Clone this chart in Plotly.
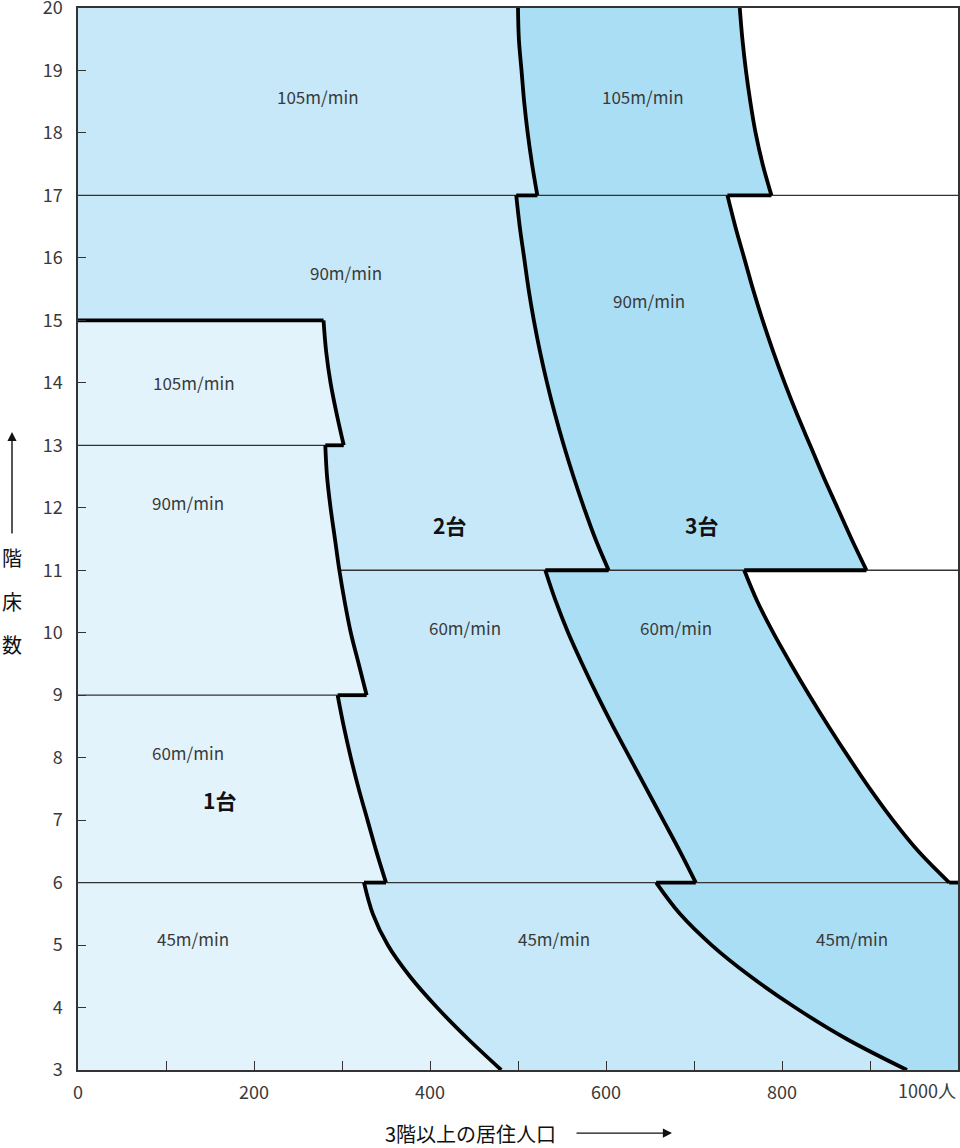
import plotly.graph_objects as go

# ---- data ----
# boundary between 1台 and 2台 zones (population x, floor y), including steps
A_floor = [15, 15, 14.5, 14, 13.5, 13, 13, 12.5, 12, 11.5, 11, 10.5, 10, 9.5, 9,
           9, 8.5, 8, 7.5, 7, 6.5, 6, 6, 5.5, 5, 4.5, 4, 3.5, 3]
A_x = [0, 279, 282, 287, 294, 302, 281, 283, 287, 292, 297, 303, 310, 319, 328,
       295, 302, 310, 319, 329, 339, 350, 325, 335, 352, 377, 408, 443, 481]

# boundary between 2台 and 3台 zones
B_floor = [20, 19.5, 19, 18.5, 18, 17.5, 17,
           17, 16.5, 16, 15.5, 15, 14.5, 14, 13.5, 13, 12.5, 12, 11.5, 11,
           11, 10.5, 10, 9.5, 9, 8.5, 8, 7.5, 7, 6.5, 6,
           6, 5.5, 5, 4.5, 4, 3.5, 3]
B_x = [500, 501, 504, 507, 511, 516, 522,
       498, 502, 507, 512, 518, 525, 533, 542, 552, 563, 575, 588, 603,
       531, 543, 557, 573, 590, 608, 627, 646, 665, 684, 702,
       657, 684, 720, 764, 815, 873, 942]

# outer boundary of 3台 zone
C_floor = [20, 19.5, 19, 18.5, 18, 17.5, 17,
           17, 16.5, 16, 15.5, 15, 14.5, 14, 13.5, 13, 12.5, 12, 11.5, 11,
           11, 10.5, 10, 9.5, 9, 8.5, 8, 7.5, 7, 6.5, 6,
           6]
C_x = [752, 755, 759, 764, 770, 778, 788,
       738, 747, 757, 767, 778, 790, 803, 817, 832, 847, 863, 879, 896,
       757, 772, 790, 810, 831, 853, 876, 900, 926, 955, 990,
       1000]

# thin speed-change lines
line_floor = [6, 9, 11, 13, 17]
line_x_start = [0, 0, 297, 0, 0]
line_x_end = [1000, 295, 1000, 281, 1000]

# zone labels
speed_text = ["105m/min", "105m/min", "90m/min", "90m/min", "105m/min", "90m/min",
              "60m/min", "60m/min", "60m/min", "45m/min", "45m/min", "45m/min"]
speed_x = [273, 642, 305, 649, 132, 125, 440, 680, 125, 131, 541, 880]
speed_y = [18.58, 18.58, 15.77, 15.31, 14.0, 12.08, 10.09, 10.09, 8.09, 5.11, 5.11, 5.11]

unit_text = ["1台", "2台", "3台"]
unit_x = [161, 422, 709]
unit_y = [7.32, 11.72, 11.72]

x_ticks = [0, 100, 200, 300, 400, 500, 600, 700, 800, 900, 1000]
x_ticklabels = ["0", "", "200", "", "400", "", "600", "", "800", "", ""]
y_ticks = list(range(3, 21))

X_MIN, X_MAX, Y_MIN, Y_MAX = 0, 1000, 3, 20

FONT = "Noto Sans CJK JP"
C1 = "#e2f3fc"
C2 = "#c6e8f8"
C3 = "#aadef5"
TXT = "#3a3a3a"


def split_segments(xs, ys):
    """Split a boundary into curved runs (floor changing) and flat steps."""
    curves, steps = [], []
    run_x, run_y = [xs[0]], [ys[0]]
    for i in range(1, len(xs)):
        if ys[i] == ys[i - 1]:
            if len(run_x) > 1:
                curves.append((run_x, run_y))
            steps.append(([xs[i - 1], xs[i]], [ys[i - 1], ys[i]]))
            run_x, run_y = [xs[i]], [ys[i]]
        else:
            run_x.append(xs[i])
            run_y.append(ys[i])
    if len(run_x) > 1:
        curves.append((run_x, run_y))
    return curves, steps


fig = go.Figure()

# zone fills (stacked, later ones on top)
fig.add_trace(go.Scatter(
    x=[X_MIN] + C_x + [X_MAX, X_MIN],
    y=[Y_MAX] + C_floor + [Y_MIN, Y_MIN],
    fill="toself", fillcolor=C3, mode="lines", line=dict(width=0),
    hoverinfo="skip", showlegend=False))
fig.add_trace(go.Scatter(
    x=[X_MIN] + B_x + [X_MIN],
    y=[Y_MAX] + B_floor + [Y_MIN],
    fill="toself", fillcolor=C2, mode="lines", line=dict(width=0),
    hoverinfo="skip", showlegend=False))
fig.add_trace(go.Scatter(
    x=A_x + [X_MIN],
    y=A_floor + [Y_MIN],
    fill="toself", fillcolor=C1, mode="lines", line=dict(width=0),
    hoverinfo="skip", showlegend=False))

# thin horizontal lines
for f, x0, x1 in zip(line_floor, line_x_start, line_x_end):
    fig.add_trace(go.Scatter(
        x=[x0, x1], y=[f, f], mode="lines",
        line=dict(color="#333333", width=1.3),
        hoverinfo="skip", showlegend=False))

# thick boundaries: smooth curves + straight steps
for bx, by in ((A_x, A_floor), (B_x, B_floor), (C_x, C_floor)):
    curves, steps = split_segments(bx, by)
    for cx, cy in curves:
        fig.add_trace(go.Scatter(
            x=cx, y=cy, mode="lines",
            line=dict(color="#000000", width=3.8, shape="spline", smoothing=1.0),
            hoverinfo="skip", showlegend=False))
    for sx, sy in steps:
        fig.add_trace(go.Scatter(
            x=sx, y=sy, mode="lines",
            line=dict(color="#000000", width=3.8),
            hoverinfo="skip", showlegend=False))

annotations = []
for t, x, y in zip(speed_text, speed_x, speed_y):
    annotations.append(dict(x=x, y=y, xref="x", yref="y", text=t, showarrow=False,
                            font=dict(family=FONT, size=17, color=TXT)))
for t, x, y in zip(unit_text, unit_x, unit_y):
    annotations.append(dict(x=x, y=y, xref="x", yref="y", text="<b>" + t + "</b>",
                            showarrow=False,
                            font=dict(family=FONT, size=21, color="#111111")))

# 1000人 tick label
annotations.append(dict(x=X_MAX, y=-0.0188, xref="x", yref="paper", text="1000人",
                        showarrow=False, xanchor="right", yanchor="middle",
                        font=dict(family=FONT, size=18, color=TXT)))

# x-axis title with arrow
annotations.append(dict(x=0.4455, y=-0.0594, xref="paper", yref="paper",
                        text="3階以上の居住人口", showarrow=False,
                        xanchor="center", yanchor="middle",
                        font=dict(family=FONT, size=20, color="#111111")))
annotations.append(dict(x=0.675, y=-0.0594, xref="paper", yref="paper", text="",
                        showarrow=True, ax=-97, ay=0, arrowhead=2, arrowsize=1.3,
                        arrowwidth=1.4, arrowcolor="#111111"))

# y-axis title: arrow + vertical characters
annotations.append(dict(x=-0.075, y=0.6008, xref="paper", yref="paper", text="",
                        showarrow=True, ax=0, ay=103, arrowhead=2, arrowsize=1.3,
                        arrowwidth=1.4, arrowcolor="#111111"))
for ch, yy in zip(["階", "床", "数"], [0.483, 0.4416, 0.4002]):
    annotations.append(dict(x=-0.075, y=yy, xref="paper", yref="paper", text=ch,
                            showarrow=False, xanchor="center", yanchor="middle",
                            font=dict(family=FONT, size=20, color="#111111")))

fig.update_layout(
    width=960, height=1148,
    margin=dict(l=78, r=2, t=8, b=78, autoexpand=False),
    paper_bgcolor="white", plot_bgcolor="white",
    font=dict(family=FONT, color=TXT),
    annotations=annotations,
    showlegend=False,
)
fig.update_xaxes(
    range=[X_MIN, X_MAX], tickvals=x_ticks, ticktext=x_ticklabels,
    ticks="inside", ticklen=9, tickwidth=1.3, tickcolor="#333333",
    showline=True, linecolor="#333333", linewidth=1.5, mirror=True,
    showgrid=False, zeroline=False, automargin=False,
    tickfont=dict(family=FONT, size=18, color=TXT),
    ticklabelstandoff=6, ticklabeloverflow="allow",
)
fig.update_yaxes(
    range=[Y_MIN, Y_MAX], tickvals=y_ticks,
    ticks="inside", ticklen=8, tickwidth=1.3, tickcolor="#333333",
    showline=True, linecolor="#333333", linewidth=1.5, mirror=True,
    showgrid=False, zeroline=False, automargin=False,
    tickfont=dict(family=FONT, size=18, color=TXT),
    ticklabelstandoff=10, ticklabeloverflow="allow",
)

fig.write_html(
    "out.html",
    config={"displayModeBar": False},
    post_script="document.body.style.margin='0';document.body.style.overflow='hidden';",
)
